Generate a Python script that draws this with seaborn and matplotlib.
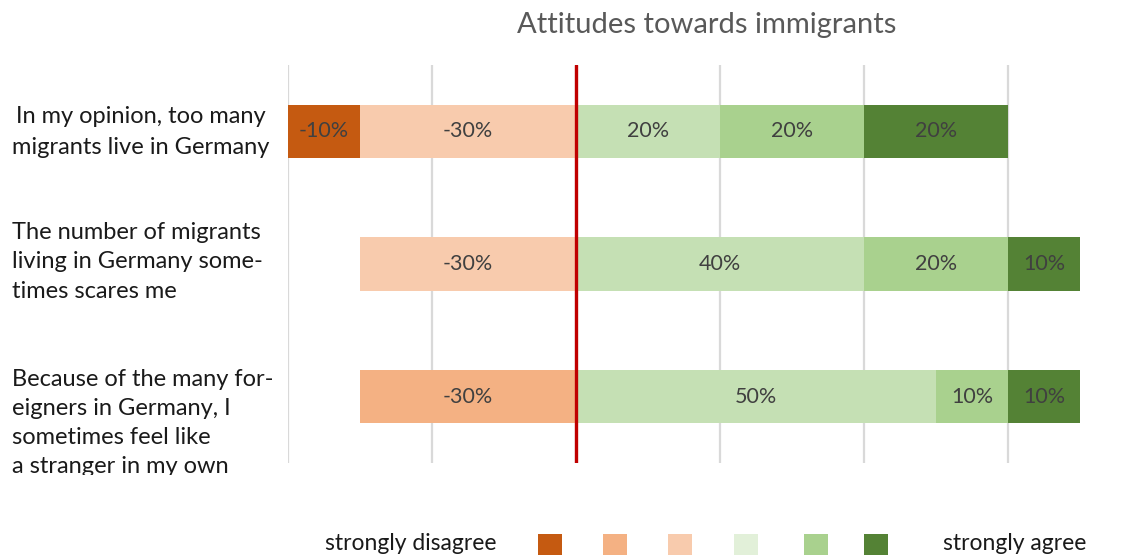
import matplotlib
matplotlib.use("Agg")
import matplotlib.pyplot as plt
import seaborn as sns
import pandas as pd
import numpy as np
from matplotlib.patches import Rectangle
from matplotlib.transforms import Bbox, TransformedBbox

sns.set_theme(style="white")
plt.rcParams["font.family"] = ["Lato", "DejaVu Sans"]

# Survey statements (one bar each)
statements = [
    "In my opinion, too many\nmigrants live in Germany",
    "The number of migrants\nliving in Germany some-\ntimes scares me",
    "Because of the many for-\neigners in Germany, I\nsometimes feel like\na stranger in my own",
]

# Response shares in percent (disagreement negative)
strongly_disagree = [-10, 0, 0]
disagree = [0, 0, -30]
somewhat_disagree = [-30, -30, 0]
somewhat_agree = [20, 40, 50]
agree = [20, 20, 10]
strongly_agree = [20, 10, 10]

# Legend end labels
legend_left = "strongly disagree"
legend_right = "strongly agree"
title = "Attitudes towards immigrants"

c_sd, c_d, c_swd = "#C55A11", "#F4B183", "#F8CBAD"
c_swa_bar, c_swa_key, c_a, c_sa = "#C5E0B4", "#E2F0D9", "#A9D18E", "#548235"

df = pd.DataFrame({
    "statement": statements,
    "sd": strongly_disagree, "d": disagree, "swd": somewhat_disagree,
    "swa": somewhat_agree, "a": agree, "sa": strongly_agree,
})

# cumulative extents for overlaid bars (outermost drawn first)
df["neg3"] = df["swd"] + df["d"] + df["sd"]
df["neg2"] = df["swd"] + df["d"]
df["neg1"] = df["swd"]
df["pos3"] = df["swa"] + df["a"] + df["sa"]
df["pos2"] = df["swa"] + df["a"]
df["pos1"] = df["swa"]

W, H = 1148, 556
fig = plt.figure(figsize=(W / 100, H / 100), dpi=100)
ax = fig.add_axes([288 / W, 1 - 463 / H, (1080 - 288) / W, (463 - 65) / H])

layers = [("neg3", c_sd), ("neg2", c_d), ("neg1", c_swd),
          ("pos3", c_sa), ("pos2", c_a), ("pos1", c_swa_bar)]
for col, colr in layers:
    sns.barplot(data=df, x=col, y="statement", orient="h", color=colr,
                width=0.4, linewidth=0, saturation=1, ax=ax, zorder=2)

ax.set_xlim(-40, 70)
ax.set_ylim(2.5, -0.5)
ax.set_xticks([-40, -20, 0, 20, 40, 60])
ax.xaxis.grid(True, color="#D9D9D9", linewidth=1.6, zorder=0)
ax.yaxis.grid(False)
ax.set_axisbelow(True)
ax.tick_params(axis="both", length=0, labelbottom=False, labelleft=False)
ax.set_xlabel("")
ax.set_ylabel("")
for s in ax.spines.values():
    s.set_visible(False)
ax.axvline(0, color="#C00000", linewidth=2.4, zorder=4)

# value labels at each segment centre
seg_specs = [
    ("sd", ["swd", "d"]), ("d", ["swd"]), ("swd", []),
    ("swa", []), ("a", ["swa"]), ("sa", ["swa", "a"]),
]
for i, row in df.iterrows():
    for col, inner in seg_specs:
        v = row[col]
        if v == 0:
            continue
        base = sum(row[c] for c in inner)
        ax.text(base + v / 2, i, f"{v}%", ha="center", va="center",
                fontsize=15.5, color="#404040", zorder=5)

# category labels on the left (the last one is cut off by the plot area)
clip = TransformedBbox(Bbox([[0, 1 - 475 / H], [1, 1]]), fig.transFigure)
lab_kw = dict(fontsize=17, color="#1A1A1A", va="center")
fig.text(141 / W, 1 - 132 / H, statements[0], ha="center",
         multialignment="center", linespacing=1.6, **lab_kw)
fig.text(12 / W, 1 - 262 / H, statements[1], ha="left", linespacing=1.5, **lab_kw)
t3 = fig.text(12 / W, 1 - 423 / H, statements[2], ha="left", linespacing=1.46, **lab_kw)
t3.set_clip_box(clip)
t3.set_clip_on(True)

fig.text(707 / W, 1 - 25 / H, title, ha="center", va="center",
         fontsize=21, color="#595959")

# legend row
ly = 1 - 544 / H
fig.text(325 / W, ly, legend_left, ha="left", va="center", fontsize=16.5, color="#1A1A1A")
fig.text(943 / W, ly, legend_right, ha="left", va="center", fontsize=16.5, color="#1A1A1A")
for x0, colr in zip([538, 603, 668, 734, 804, 864],
                    [c_sd, c_d, c_swd, c_swa_key, c_a, c_sa]):
    fig.patches.append(Rectangle((x0 / W, 1 - 555 / H), 24 / W, 21 / H,
                                 transform=fig.transFigure, color=colr, lw=0))

fig.savefig("out.png", dpi=100, facecolor="white")
